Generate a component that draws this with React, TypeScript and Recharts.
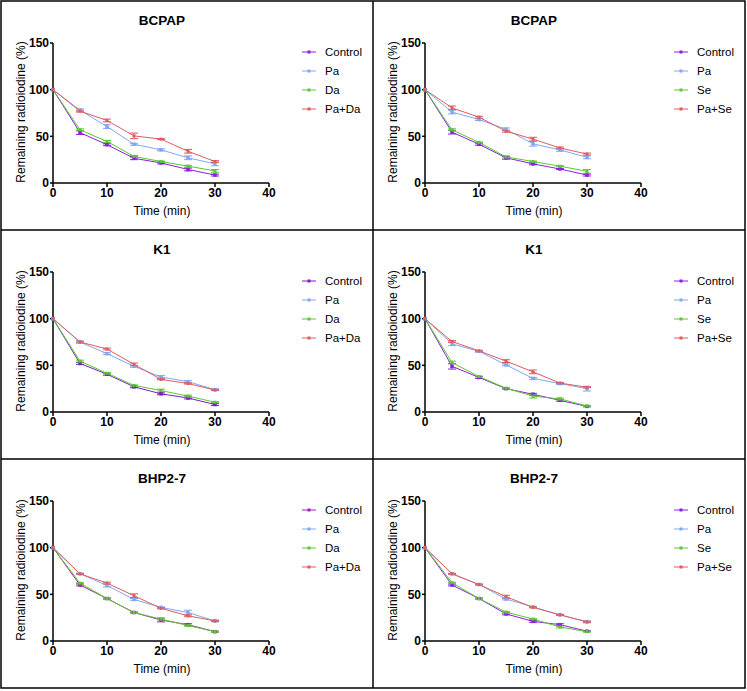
import React from "react"
import { LineChart, Line, XAxis, YAxis, ErrorBar } from "recharts"

// sampling times (min) and axis ticks
const times = [0, 5, 10, 15, 20, 25, 30]
const xTicks = [0, 10, 20, 30, 40]
const yTicks = [0, 50, 100, 150]

// BCPAP + Da
const bcpapDaControl = [100, 54, 41, 26.5, 21.5, 14.5, 8.5]
const bcpapDaPa = [100, 78, 60.5, 41.5, 35.5, 27, 20.5]
const bcpapDaDrug = [100, 57, 44.5, 28.5, 23, 18, 13]
const bcpapDaCombo = [100, 77, 67, 50.5, 47, 34, 23]
const bcpapDaErr = [
  [0, 2, 1, 1.5, 1, 1.5, 1],
  [0, 1.5, 2, 1, 1, 2, 2],
  [0, 1, 1, 1, 0.5, 1, 1.5],
  [0, 1, 1.5, 3, 0.5, 2, 1],
]

// BCPAP + Se
const bcpapSeControl = [100, 54.5, 41.5, 27, 20.5, 15, 8.5]
const bcpapSePa = [100, 76, 68, 57.5, 42, 35.5, 27.5]
const bcpapSeDrug = [100, 57, 43.5, 28, 23, 18, 12.5]
const bcpapSeCombo = [100, 80.5, 70.5, 55.5, 47, 37.5, 31]
const bcpapSeErr = [
  [0, 2, 1, 1.5, 1, 0.5, 1],
  [0, 2, 1, 1.5, 2.5, 1.5, 1.5],
  [0, 1, 0.5, 1, 0.5, 0.5, 2],
  [0, 2, 1, 1, 2, 1, 1],
]

// K1 + Da
const k1DaControl = [100, 52, 40.5, 27, 19.5, 15, 8]
const k1DaPa = [100, 75, 62.5, 49, 37.5, 32.5, 24]
const k1DaDrug = [100, 54.5, 41.5, 28.5, 23, 17, 10.5]
const k1DaCombo = [100, 75, 67.5, 51, 35, 30.5, 23.5]
const k1DaErr = [
  [0, 1, 1, 1, 1, 1, 1],
  [0, 1, 1, 1, 1.5, 1, 1],
  [0, 1, 0.5, 0.5, 1.5, 1, 0.5],
  [0, 1, 1, 1.5, 0.5, 0.5, 0.5],
]

// K1 + Se
const k1SeControl = [100, 49, 37, 25, 19, 12.5, 6]
const k1SePa = [100, 73, 65, 50.5, 36, 30.5, 25]
const k1SeDrug = [100, 53, 38, 25.5, 17, 14, 6.5]
const k1SeCombo = [100, 75.5, 65.5, 54.5, 43, 31, 26.5]
const k1SeErr = [
  [0, 3, 1, 0.5, 1, 1, 0.5],
  [0, 2, 1, 1, 1, 1, 2.5],
  [0, 1.5, 0.5, 0.5, 2, 1, 0.5],
  [0, 1, 0.5, 1.5, 2, 0.5, 0.5],
]

// BHP2-7 + Da
const bhpDaControl = [100, 60, 45.5, 30.5, 22.5, 17.5, 10]
const bhpDaPa = [100, 72, 59.5, 44.5, 36, 30.5, 21.5]
const bhpDaDrug = [100, 62, 45.5, 30.5, 23.5, 16.5, 10]
const bhpDaCombo = [100, 72, 62, 48.5, 35, 27, 21.5]
const bhpDaErr = [
  [0, 1, 0.5, 0.5, 2, 1, 0.5],
  [0, 0.5, 1.5, 1, 0.5, 2.5, 1],
  [0, 0.5, 0.5, 0.5, 1, 0.5, 0.5],
  [0, 0.5, 1, 2, 0.5, 1, 0.5],
]

// BHP2-7 + Se
const bhpSeControl = [100, 60, 45.5, 29, 21, 17.5, 10.5]
const bhpSePa = [100, 72, 60.5, 45, 36.5, 28, 20.5]
const bhpSeDrug = [100, 62.5, 45.5, 31, 23.5, 15, 10]
const bhpSeCombo = [100, 72, 60.5, 47.5, 36, 28, 20.5]
const bhpSeErr = [
  [0, 1, 0.5, 1, 1, 1, 0.5],
  [0, 0.5, 0.5, 1, 0.5, 0.5, 1],
  [0, 0.5, 0.5, 0.5, 0.5, 1, 0.5],
  [0, 0.5, 0.5, 1.5, 0.5, 0.5, 0.5],
]

const FONT = "'Liberation Sans', Arial, Helvetica, sans-serif"
const PW = 372
const PH = 229

const colors = {
  control: "#8c1ee6",
  pa: "#80a8f5",
  drug: "#5cc832",
  combo: "#e05c5c",
}

type PanelProps = {
  title: string
  drug: string
  series: number[][]
  errors: number[][]
  left: number
  top: number
  controlColor?: string
}

const Square = (color: string, size: number) => (props: any) => {
  const { cx, cy, index } = props
  if (cx == null || cy == null) return <g key={index} />
  return <rect key={index} x={cx - size / 2} y={cy - size / 2} width={size} height={size} fill={color} />
}

function Panel({ title, drug, series, errors, left, top, controlColor }: PanelProps) {
  const data = times.map((t, i) => ({
    t,
    control: series[0][i],
    pa: series[1][i],
    drug: series[2][i],
    combo: series[3][i],
    controlErr: errors[0][i],
    paErr: errors[1][i],
    drugErr: errors[2][i],
    comboErr: errors[3][i],
  }))
  const cc = controlColor || colors.control
  const legend = [
    { name: "Control", color: cc },
    { name: "Pa", color: colors.pa },
    { name: drug, color: colors.drug },
    { name: "Pa+" + drug, color: colors.combo },
  ]
  const lines = [
    { key: "control", color: cc, size: 3.5 },
    { key: "drug", color: colors.drug, size: 3 },
    { key: "pa", color: colors.pa, size: 3.5 },
    { key: "combo", color: colors.combo, size: 3 },
  ]
  const tickStyle = { fontSize: 12, fontWeight: 700, fill: "#000", fontFamily: FONT }
  return (
    <div style={{ position: "absolute", left, top, width: PW, height: PH }}>
      <LineChart width={PW} height={PH} data={data} margin={{ top: 42, right: 104, bottom: 17, left: 0 }}>
        <XAxis
          type="number"
          dataKey="t"
          domain={[0, 40]}
          ticks={xTicks}
          height={30}
          stroke="#000"
          strokeWidth={1.5}
          tickSize={4}
          tickMargin={1}
          tick={tickStyle}
        />
        <YAxis
          type="number"
          domain={[0, 150]}
          ticks={yTicks}
          width={52}
          stroke="#000"
          strokeWidth={1.5}
          tickSize={3}
          tickMargin={1}
          tick={tickStyle}
        />
        {lines.map((l) => (
          <Line
            key={l.key}
            dataKey={l.key}
            stroke={l.color}
            strokeWidth={1}
            dot={Square(l.color, l.size)}
            isAnimationActive={false}
          >
            <ErrorBar
              dataKey={l.key + "Err"}
              direction="y"
              width={4}
              stroke={l.color}
              strokeWidth={1}
              isAnimationActive={false}
            />
          </Line>
        ))}
      </LineChart>
      <svg width={PW} height={PH} style={{ position: "absolute", left: 0, top: 0, pointerEvents: "none" }}>
        <text x={161} y={24} textAnchor="middle" fontFamily={FONT} fontWeight={700} fontSize={13.5} fill="#000">
          {title}
        </text>
        <text
          x={0}
          y={0}
          transform={`translate(24, 111) rotate(-90)`}
          textAnchor="middle"
          fontFamily={FONT}
          fontSize={12}
          fill="#000"
        >
          Remaining radioiodine (%)
        </text>
        <text x={161} y={214} textAnchor="middle" fontFamily={FONT} fontSize={12} fill="#000">
          Time (min)
        </text>
        {legend.map((l, i) => (
          <g key={l.name}>
            <line x1={301} x2={315} y1={51 + i * 19} y2={51 + i * 19} stroke={l.color} strokeWidth={1} />
            <rect x={306.5} y={49.5 + i * 19} width={3} height={3} fill={l.color} />
            <text x={324} y={55 + i * 19} fontFamily={FONT} fontSize={11.5} fill="#000">
              {l.name}
            </text>
          </g>
        ))}
      </svg>
    </div>
  )
}

export default function App() {
  return (
    <div style={{ position: "absolute", left: 0, top: 0, width: 747, height: 691, background: "#fff" }}>
      <svg width={747} height={691} style={{ position: "absolute", left: 0, top: 0 }}>
        <rect x={1} y={1} width={744} height={687} fill="none" stroke="#000" strokeWidth={1.5} />
        <line x1={373} x2={373} y1={1} y2={688} stroke="#000" strokeWidth={1.5} />
        <line x1={1} x2={745} y1={230} y2={230} stroke="#000" strokeWidth={1.5} />
        <line x1={1} x2={745} y1={459} y2={459} stroke="#000" strokeWidth={1.5} />
      </svg>
      <Panel title="BCPAP" drug="Da" left={1} top={1} errors={bcpapDaErr}
        series={[bcpapDaControl, bcpapDaPa, bcpapDaDrug, bcpapDaCombo]} />
      <Panel title="BCPAP" drug="Se" left={373} top={1} errors={bcpapSeErr}
        series={[bcpapSeControl, bcpapSePa, bcpapSeDrug, bcpapSeCombo]} />
      <Panel title="K1" drug="Da" left={1} top={230} controlColor="#7a1ec8" errors={k1DaErr}
        series={[k1DaControl, k1DaPa, k1DaDrug, k1DaCombo]} />
      <Panel title="K1" drug="Se" left={373} top={230} errors={k1SeErr}
        series={[k1SeControl, k1SePa, k1SeDrug, k1SeCombo]} />
      <Panel title="BHP2-7" drug="Da" left={1} top={459} controlColor="#a020b8" errors={bhpDaErr}
        series={[bhpDaControl, bhpDaPa, bhpDaDrug, bhpDaCombo]} />
      <Panel title="BHP2-7" drug="Se" left={373} top={459} errors={bhpSeErr}
        series={[bhpSeControl, bhpSePa, bhpSeDrug, bhpSeCombo]} />
    </div>
  )
}
